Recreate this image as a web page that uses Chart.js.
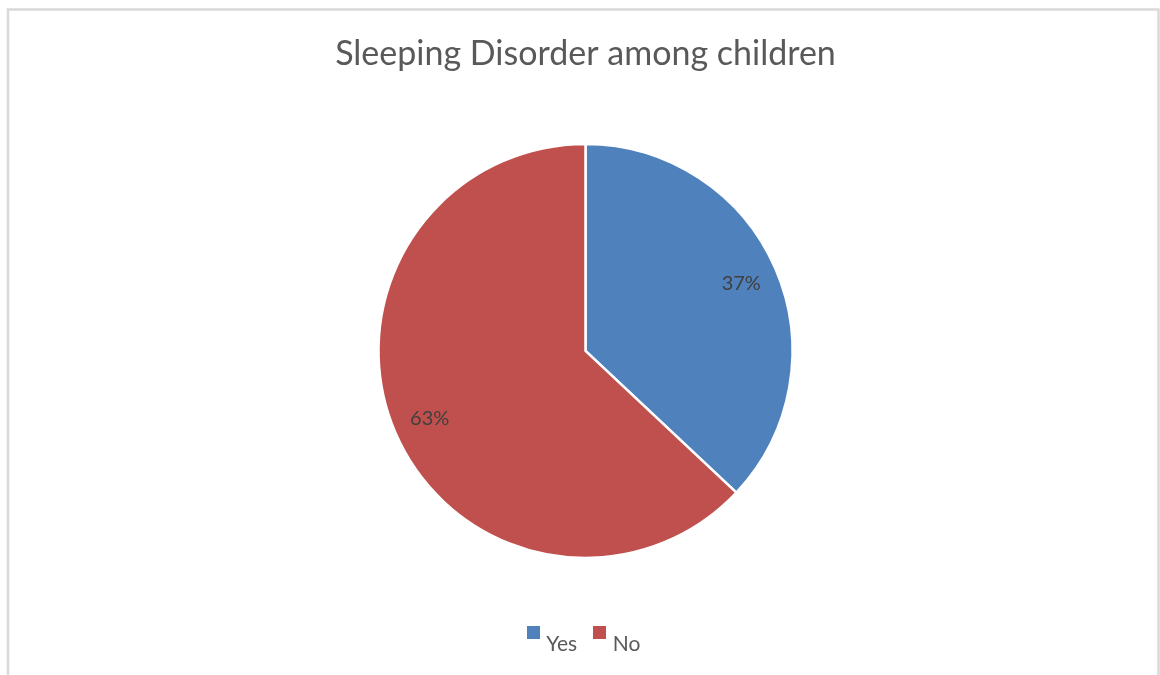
<!DOCTYPE html>
<html>
<head>
<meta charset="utf-8">
<script src="https://cdn.jsdelivr.net/npm/chart.js@4/dist/chart.umd.min.js"></script>
<style>
    html, body { margin: 0; padding: 0; background: #ffffff; }
    #wrap { position: relative; width: 1160px; height: 675px; }
</style>
</head>
<body>
<div id="wrap"><canvas id="sleepChart"></canvas></div>
<script>
// Datos del gráfico
const categories = ["Yes", "No"]
const percentages = [37, 63]
const sliceColors = ['#4F81BD', '#C0504D']

// Cuadrito de leyenda dibujado más arriba que el texto
function legendSquare(color) {
    const c = document.createElement('canvas')
    c.width = 13
    c.height = 37
    const g = c.getContext('2d')
    g.fillStyle = color
    g.fillRect(0, 0, 13, 13)
    return c
}
const squares = sliceColors.map(legendSquare)

// Marco gris alrededor del gráfico (sin borde inferior)
const frame = {
    id: 'frame',
    beforeDraw(chart) {
        const ctx = chart.ctx
        ctx.save()
        ctx.strokeStyle = '#d9d9d9'
        ctx.lineWidth = 2.5
        ctx.beginPath()
        ctx.moveTo(8, 680)
        ctx.lineTo(8, 9.5)
        ctx.lineTo(1158.5, 9.5)
        ctx.lineTo(1158.5, 680)
        ctx.stroke()
        ctx.restore()
    }
}

// Etiquetas de porcentaje dentro de cada porción
const sliceLabels = {
    id: 'sliceLabels',
    afterDatasetsDraw(chart) {
        const ctx = chart.ctx
        const meta = chart.getDatasetMeta(0)
        ctx.save()
        ctx.fillStyle = '#404040'
        ctx.font = '20px Lato'
        ctx.textAlign = 'center'
        ctx.textBaseline = 'middle'
        meta.data.forEach((arc, i) => {
            const mid = (arc.startAngle + arc.endAngle) / 2
            const r = arc.outerRadius * 0.82
            ctx.fillText(percentages[i] + '%', arc.x + Math.cos(mid) * r, arc.y + Math.sin(mid) * r)
        })
        ctx.restore()
    }
}

const chart = new Chart(document.querySelector("#sleepChart"), {
    type: 'pie',
    data: {
        labels: categories,
        datasets: [{
            data: percentages,
            backgroundColor: sliceColors,
            borderColor: '#ffffff',
            borderWidth: 2.5,
            radius: 207
        }]
    },
    options: {
        responsive: true,
        maintainAspectRatio: false,
        animation: false,
        layout: { padding: { left: 11, bottom: 10 } },
        plugins: {
            title: {
                display: true,
                text: 'Sleeping Disorder among children',
                color: '#595959',
                font: { family: 'Lato', size: 34, weight: 'normal' },
                padding: { top: 34, bottom: 13 }
            },
            legend: {
                position: 'bottom',
                labels: {
                    color: '#595959',
                    font: { family: 'Lato', size: 21 },
                    usePointStyle: true,
                    pointStyleWidth: 5,
                    padding: 20,
                    generateLabels(chart) {
                        const items = Chart.overrides.pie.plugins.legend.labels.generateLabels(chart)
                        items.forEach((item, i) => { item.pointStyle = squares[i] })
                        return items
                    }
                }
            },
            tooltip: { enabled: false }
        }
    },
    plugins: [frame, sliceLabels]
})
</script>
</body>
</html>
